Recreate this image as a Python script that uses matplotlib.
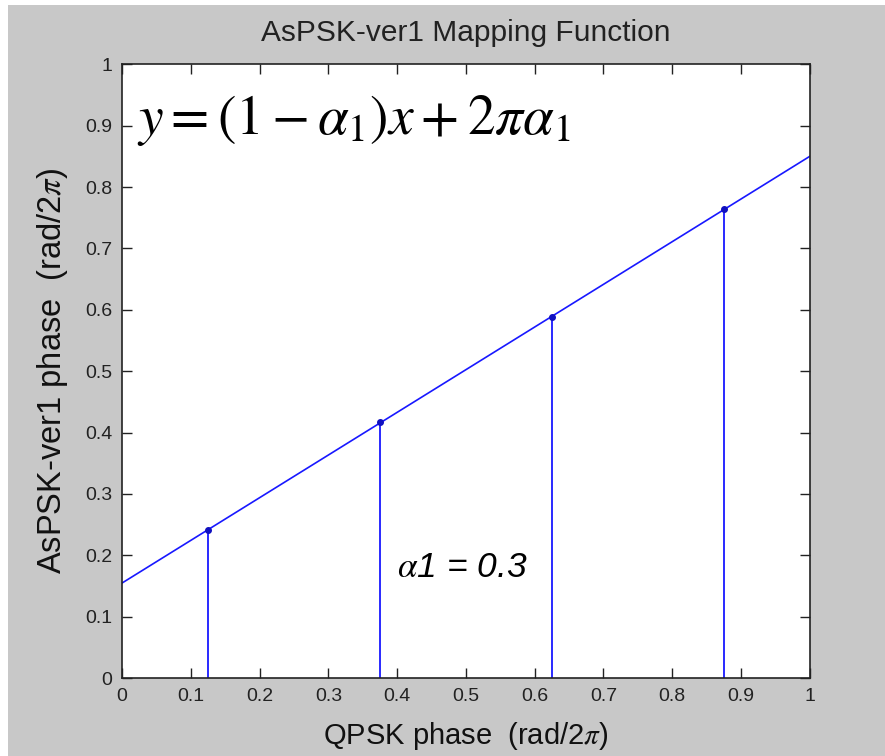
import matplotlib
matplotlib.use("Agg")
import matplotlib.pyplot as plt
from matplotlib.patches import Rectangle

alpha1 = 0.3
line_x = [0.0, 1.0]
line_y = [0.155, 0.85]
stem_x = [0.125, 0.375, 0.625, 0.875]
stem_y = [0.241, 0.417, 0.589, 0.765]
ticks = [0, 0.1, 0.2, 0.3, 0.4, 0.5, 0.6, 0.7, 0.8, 0.9, 1]
tick_labels = ["0", "0.1", "0.2", "0.3", "0.4", "0.5", "0.6", "0.7", "0.8", "0.9", "1"]

plt.rcParams['font.family'] = ['Liberation Sans', 'DejaVu Sans']
plt.rcParams['mathtext.fontset'] = 'stix'

W, H = 885, 756
fig = plt.figure(figsize=(W / 100, H / 100), dpi=100, facecolor='white')
fig.patches.append(Rectangle((8 / W, 0), 1 - 8 / W, 1 - 5 / H, transform=fig.transFigure,
                             facecolor='#c8c8c8', edgecolor='none', zorder=-10))
ax = fig.add_axes([0.138, 0.103, 0.777, 0.812])
ax.set_facecolor('white')

ax.plot(line_x, line_y, color='#1818ff', lw=1.2)
ax.vlines(stem_x, 0, stem_y, color='#1818ff', lw=1.3)
ax.plot(stem_x, stem_y, 'o', color='#1010c0', ms=4)

ax.set_xlim(0, 1)
ax.set_ylim(0, 1)
ax.set_xticks(ticks)
ax.set_xticklabels(tick_labels)
ax.set_yticks(ticks)
ax.set_yticklabels(tick_labels)
ax.tick_params(direction='in', top=True, right=True, length=7, width=1,
               labelsize=14, colors='#222222', pad=7)
for s in ax.spines.values():
    s.set_linewidth(1.2)
    s.set_color('#222222')

ax.set_title('AsPSK-ver1 Mapping Function', fontsize=21.5, pad=17, color='#222222')
ax.set_xlabel(r'QPSK phase  (rad/2$\pi$)', fontsize=21, labelpad=11, color='#111111')
ax.set_ylabel(r'AsPSK-ver1 phase  (rad/2$\pi$)', fontsize=23.5, labelpad=11, color='#111111')

ax.text(0.022, 0.887, r'$y=(1-\alpha_1)x+2\pi\alpha_1$', transform=ax.transAxes,
        fontsize=40, va='baseline', ha='left', color='black')
ax.text(0.4, 0.165, r'$\alpha$1 = 0.3', fontsize=25.5, style='italic',
        color='black', ha='left', va='baseline')

fig.savefig('out.png', dpi=100, facecolor=fig.get_facecolor())
